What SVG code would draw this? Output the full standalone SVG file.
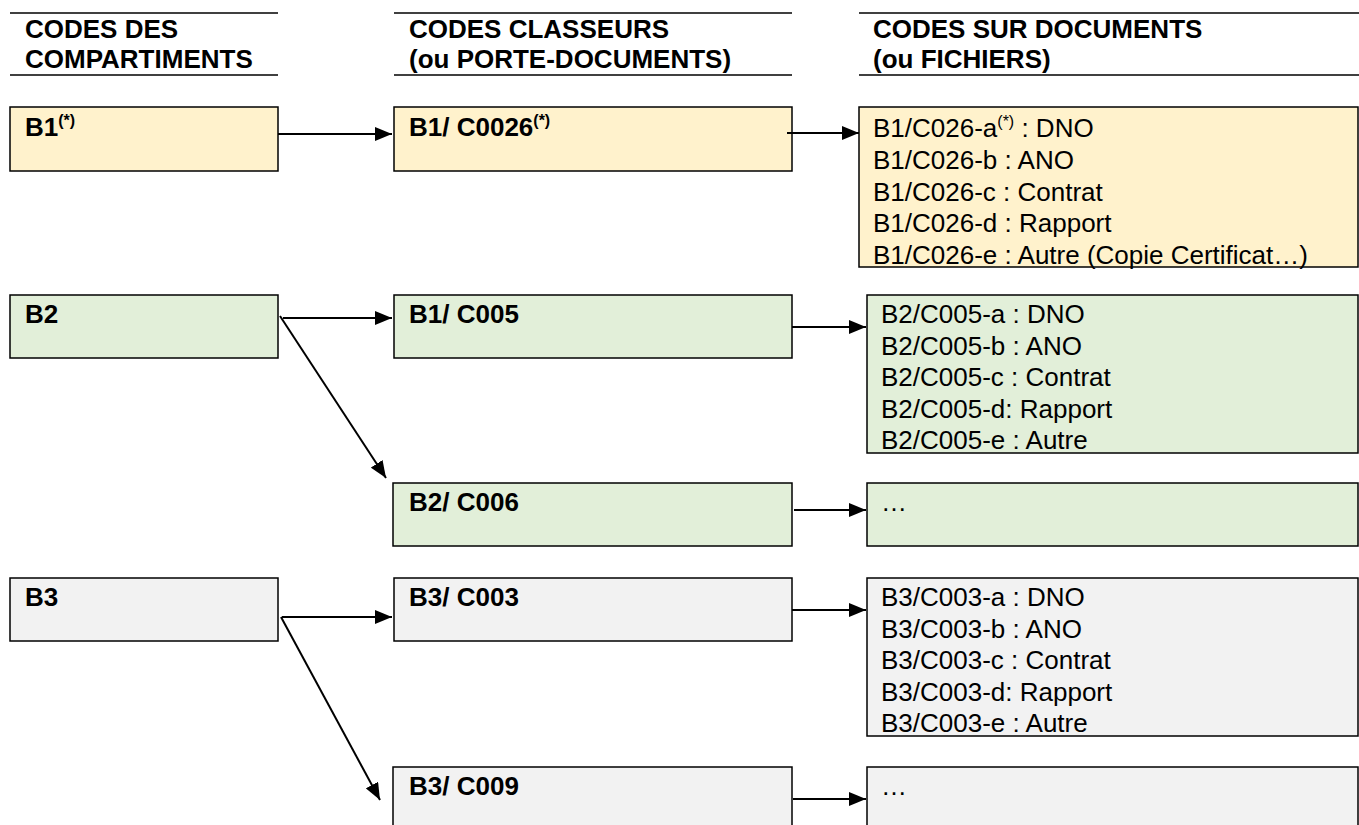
<svg xmlns="http://www.w3.org/2000/svg" width="1359" height="825" viewBox="0 0 1359 825">
<style>
.hd{font-family:"Liberation Sans",Arial,sans-serif;font-weight:bold;font-size:26px;fill:#000}
.bt{font-family:"Liberation Sans",Arial,sans-serif;font-weight:bold;font-size:26px;fill:#000}
.dt{font-family:"Liberation Sans",Arial,sans-serif;font-size:26px;fill:#000}
.sup{font-size:16px}
.hl{stroke:#000;stroke-width:1.5}
.y{fill:#FFF2CC;stroke:#000;stroke-width:1.5}
.g{fill:#E2EFD9;stroke:#000;stroke-width:1.5}
.r{fill:#F2F2F2;stroke:#000;stroke-width:1.5}
.c{stroke:#000;stroke-width:2;fill:none;marker-end:url(#ah)}
</style>
<defs>
<marker id="ah" markerUnits="userSpaceOnUse" markerWidth="18" markerHeight="14" refX="17" refY="7" orient="auto">
<path d="M0,0 L17,7 L0,14 z" fill="#000"/>
</marker>
</defs>
<g id="headers">
<line class="hl" x1="10" y1="13" x2="278" y2="13"/>
<line class="hl" x1="10" y1="75" x2="278" y2="75"/>
<text class="hd" x="25" y="38">CODES DES</text>
<text class="hd" x="25" y="68">COMPARTIMENTS</text>
<line class="hl" x1="394" y1="13" x2="792" y2="13"/>
<line class="hl" x1="394" y1="75" x2="792" y2="75"/>
<text class="hd" x="409" y="38">CODES CLASSEURS</text>
<text class="hd" x="409" y="68">(ou PORTE-DOCUMENTS)</text>
<line class="hl" x1="859" y1="13" x2="1359" y2="13"/>
<line class="hl" x1="859" y1="75" x2="1359" y2="75"/>
<text class="hd" x="873" y="38">CODES SUR DOCUMENTS</text>
<text class="hd" x="873" y="68">(ou FICHIERS)</text>
</g>
<g id="B1">
<rect class="y" x="10" y="107" width="268" height="64"/>
<text class="bt" x="25" y="136">B1<tspan class="sup" dy="-10">(*)</tspan></text>
</g>
<g id="B1-C0026">
<rect class="y" x="394" y="107" width="398" height="64"/>
<text class="bt" x="409" y="136">B1/ C0026<tspan class="sup" dy="-10">(*)</tspan></text>
</g>
<g id="docs-B1-C026">
<rect class="y" x="859" y="107" width="499" height="160"/>
<text class="dt" x="873" y="137">B1/C026-a<tspan class="sup" dy="-10">(*)</tspan><tspan dy="10"> : DNO</tspan></text>
<text class="dt" x="873" y="169">B1/C026-b : ANO</text>
<text class="dt" x="873" y="200.5">B1/C026-c : Contrat</text>
<text class="dt" x="873" y="232">B1/C026-d : Rapport</text>
<text class="dt" x="873" y="263.5">B1/C026-e : Autre (Copie Certificat…)</text>
</g>
<g id="B2">
<rect class="g" x="10" y="295" width="268" height="63"/>
<text class="bt" x="25" y="323">B2</text>
</g>
<g id="B1-C005">
<rect class="g" x="394" y="295" width="398" height="63"/>
<text class="bt" x="409" y="323">B1/ C005</text>
</g>
<g id="docs-B2-C005">
<rect class="g" x="867" y="295" width="491" height="158"/>
<text class="dt" x="881" y="323">B2/C005-a : DNO</text>
<text class="dt" x="881" y="354.5">B2/C005-b : ANO</text>
<text class="dt" x="881" y="386">B2/C005-c : Contrat</text>
<text class="dt" x="881" y="417.5">B2/C005-d: Rapport</text>
<text class="dt" x="881" y="449">B2/C005-e : Autre</text>
</g>
<g id="B2-C006">
<rect class="g" x="393" y="483" width="399" height="63"/>
<text class="bt" x="409" y="511">B2/ C006</text>
</g>
<g id="docs-B2-C006">
<rect class="g" x="867" y="483" width="491" height="63"/>
<text class="dt" x="881" y="511">…</text>
</g>
<g id="B3">
<rect class="r" x="10" y="578" width="268" height="63"/>
<text class="bt" x="25" y="606">B3</text>
</g>
<g id="B3-C003">
<rect class="r" x="394" y="578" width="398" height="63"/>
<text class="bt" x="409" y="606">B3/ C003</text>
</g>
<g id="docs-B3-C003">
<rect class="r" x="867" y="578" width="491" height="158"/>
<text class="dt" x="881" y="606">B3/C003-a : DNO</text>
<text class="dt" x="881" y="637.5">B3/C003-b : ANO</text>
<text class="dt" x="881" y="669">B3/C003-c : Contrat</text>
<text class="dt" x="881" y="700.5">B3/C003-d: Rapport</text>
<text class="dt" x="881" y="732">B3/C003-e : Autre</text>
</g>
<g id="B3-C009">
<rect class="r" x="393" y="767" width="399" height="70"/>
<text class="bt" x="409" y="795">B3/ C009</text>
</g>
<g id="docs-B3-C009">
<rect class="r" x="867" y="767" width="491" height="70"/>
<text class="dt" x="881" y="795">…</text>
</g>
<g id="connectors">
<line class="c" x1="278" y1="134" x2="392" y2="134"/>
<line class="c" x1="787" y1="133" x2="859" y2="133"/>
<line class="c" x1="283" y1="318" x2="392" y2="318"/>
<line class="c" x1="280" y1="316" x2="386" y2="478"/>
<line class="c" x1="792" y1="327" x2="866" y2="327"/>
<line class="c" x1="794" y1="510" x2="866" y2="510"/>
<line class="c" x1="282" y1="617" x2="392" y2="617"/>
<line class="c" x1="281" y1="617" x2="380" y2="800"/>
<line class="c" x1="792" y1="610" x2="866" y2="610"/>
<line class="c" x1="793" y1="799" x2="866" y2="799"/>
</g>
</svg>
